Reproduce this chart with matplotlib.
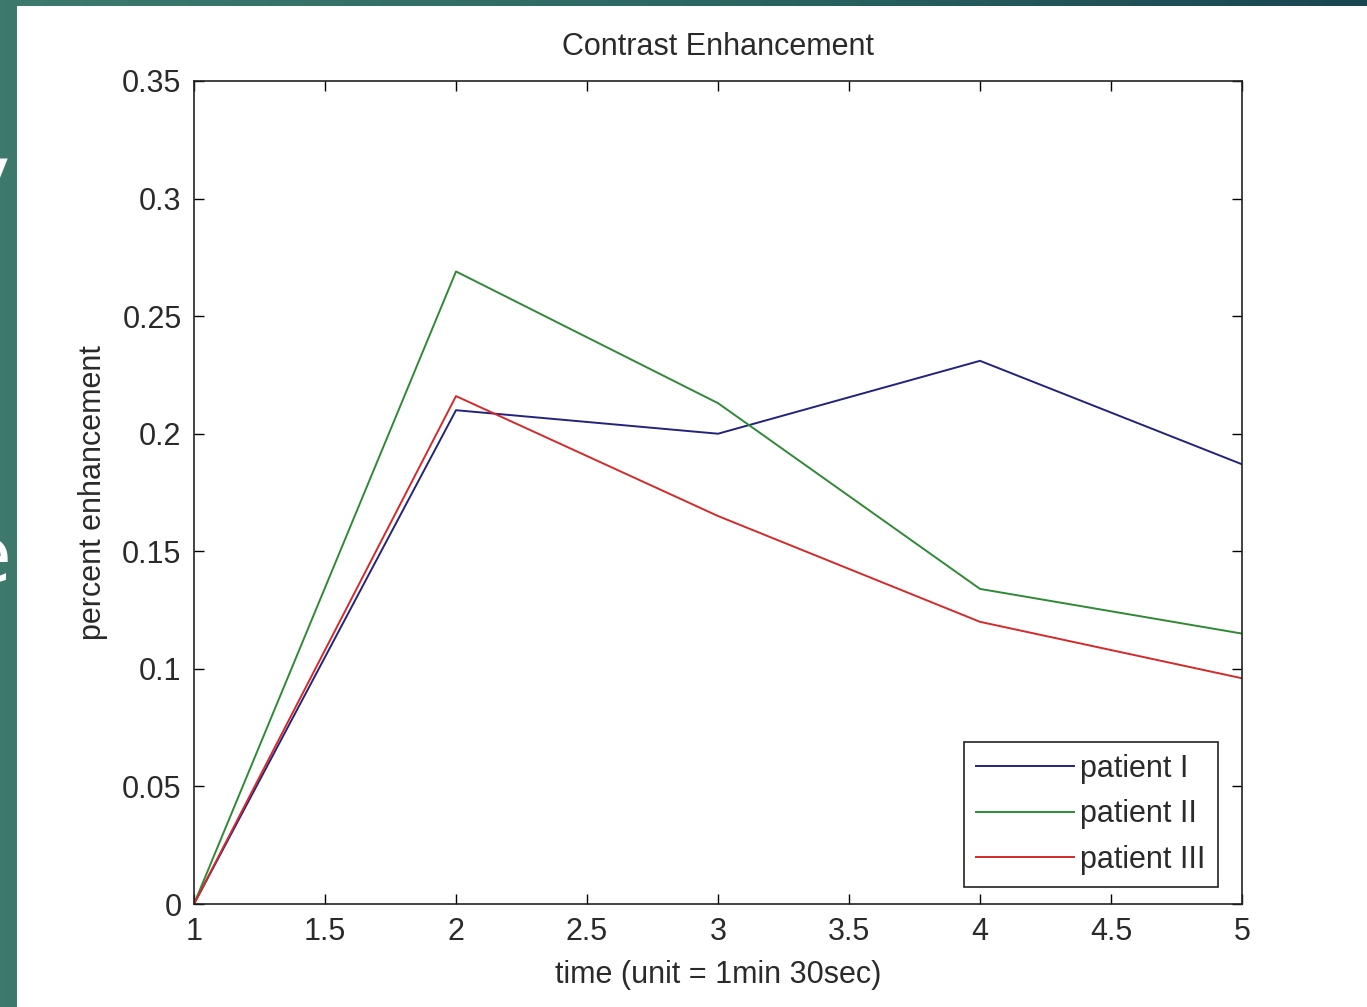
import numpy as np
import matplotlib
matplotlib.use("Agg")
import matplotlib.pyplot as plt
from matplotlib.patches import Rectangle
from matplotlib.colors import LinearSegmentedColormap

# data
time = [1, 2, 3, 4, 5]
patient_1 = [0.0, 0.210, 0.200, 0.231, 0.187]
patient_2 = [0.0, 0.269, 0.213, 0.134, 0.115]
patient_3 = [0.0, 0.216, 0.165, 0.120, 0.096]
labels = ["patient I", "patient II", "patient III"]
colors = ["#23237e", "#2f8a34", "#d42a2a"]

xticks = [1, 1.5, 2, 2.5, 3, 3.5, 4, 4.5, 5]
xtick_labels = ["1", "1.5", "2", "2.5", "3", "3.5", "4", "4.5", "5"]
yticks = [0, 0.05, 0.1, 0.15, 0.2, 0.25, 0.3, 0.35]
ytick_labels = ["0", "0.05", "0.1", "0.15", "0.2", "0.25", "0.3", "0.35"]

plt.rcParams["font.family"] = ["Liberation Sans", "DejaVu Sans"]
TXT = "#2a2a2a"
W, H = 1367, 1007

fig = plt.figure(figsize=(W / 100, H / 100), dpi=100)

# slide background: teal gradient, then the white figure window on top
bg = fig.add_axes([0, 0, 1, 1], zorder=-10)
grad = np.linspace(0, 1, 256)[None, :]
cm = LinearSegmentedColormap.from_list("slide", ["#3d7a6d", "#2c6862", "#1a4552"])
bg.imshow(grad, aspect="auto", cmap=cm, extent=[0, 1, 0, 1])
bg.set_xlim(0, 1)
bg.set_ylim(0, 1)
bg.axis("off")
# bits of slide text cut off at the left edge (as in the screenshot)
bg.text(10 / W, 1 - 180 / H, "y", color="white", fontsize=56, ha="right", va="center",
        family="DejaVu Sans")
bg.text(12 / W, 1 - 560 / H, "e", color="white", fontsize=56, ha="right", va="center",
        family="DejaVu Sans")
bg.add_patch(Rectangle((17 / W, 0), 1, 1 - 6 / H, facecolor="white", edgecolor="none"))

ax = fig.add_axes([194 / W, 1 - 904 / H, (1242 - 194) / W, (904 - 81) / H])
for ys, lab, c in zip([patient_1, patient_2, patient_3], labels, colors):
    ax.plot(time, ys, color=c, lw=1.4, label=lab)

ax.set_xlim(1, 5)
ax.set_ylim(0, 0.35)
ax.set_xticks(xticks)
ax.set_xticklabels(xtick_labels)
ax.set_yticks(yticks)
ax.set_yticklabels(ytick_labels)
ax.tick_params(direction="in", length=7, width=1, top=True, right=True,
               labelsize=22, labelcolor=TXT, pad=9)
for s in ax.spines.values():
    s.set_linewidth(1.2)
    s.set_color("#222222")

ax.set_title("Contrast Enhancement", fontsize=22, color=TXT, pad=19)
ax.set_xlabel("time (unit = 1min 30sec)", fontsize=22, color=TXT, labelpad=10)
ax.set_ylabel("percent enhancement", fontsize=22, color=TXT, labelpad=10)

leg = ax.legend(loc="lower right", bbox_to_anchor=(0.977, 0.0207), borderaxespad=0,
                fontsize=22, handlelength=3.2, handletextpad=0.2, labelspacing=0.5,
                fancybox=False, framealpha=1, edgecolor="#222222", borderpad=0.4)
leg.get_frame().set_linewidth(1.2)
for t in leg.get_texts():
    t.set_color(TXT)

fig.savefig("out.png", dpi=100)
